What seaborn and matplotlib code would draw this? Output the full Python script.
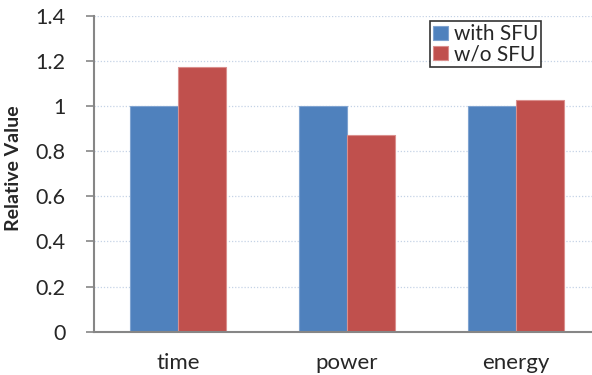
import matplotlib
matplotlib.use("Agg")
import matplotlib.pyplot as plt
import seaborn as sns
import pandas as pd

categories = ["time", "power", "energy"]
series_names = ["with SFU", "w/o SFU"]
with_sfu = [1.0, 1.0, 1.0]
without_sfu = [1.174, 0.873, 1.027]
y_ticks = [0, 0.2, 0.4, 0.6, 0.8, 1.0, 1.2, 1.4]
y_tick_labels = ["0", "0.2", "0.4", "0.6", "0.8", "1", "1.2", "1.4"]

df = pd.DataFrame({
    "metric": categories * 2,
    "series": [series_names[0]] * 3 + [series_names[1]] * 3,
    "value": with_sfu + without_sfu,
})

sns.set_theme(style="white")
plt.rcParams["font.family"] = ["Lato", "DejaVu Sans"]

fig = plt.figure(figsize=(5.92, 3.75), dpi=100)
ax = fig.add_axes([93.5 / 592, 1 - 331.7 / 375, (600.5 - 93.5) / 592, (331.7 - 15.7) / 375])

palette = {"with SFU": "#4F81BD", "w/o SFU": "#C0504D"}
sns.barplot(data=df, x="metric", y="value", hue="series", palette=palette,
            width=0.57, saturation=1, ax=ax, zorder=2)

edge_colors = {"#4F81BD": "#7FA3D0", "#C0504D": "#DA8F8D"}
for patch in ax.patches:
    fc = matplotlib.colors.to_hex(patch.get_facecolor()).upper()
    if fc in edge_colors:
        patch.set_edgecolor(edge_colors[fc])
        patch.set_linewidth(0.8)

ax.set_ylim(0, 1.4)
ax.set_xlim(-0.5, 2.5)
ax.set_yticks(y_ticks)
ax.set_yticklabels(y_tick_labels, fontsize=15.5)
ax.set_xticks([0, 1, 2])
ax.set_xticklabels(categories, fontsize=16)
ax.set_xlabel("")
ax.set_ylabel("Relative Value", fontsize=14, fontweight="bold")
ax.yaxis.set_label_coords((22 - 93.5) / 507, (331.7 - 168) / 316)

ax.yaxis.grid(True, linestyle=(0, (1, 1.5)), color="#C5D3E6", linewidth=0.9, zorder=0)
ax.set_axisbelow(True)

for side in ["top", "right"]:
    ax.spines[side].set_visible(False)
for side in ["left", "bottom"]:
    ax.spines[side].set_color("#868686")
    ax.spines[side].set_linewidth(1.5)

# category boundary ticks on the x axis
ax.set_xticks([-0.5, 0.5, 1.5], minor=True)
ax.tick_params(axis="x", which="major", length=0, pad=15)
ax.tick_params(axis="x", which="minor", length=6, width=1.2, color="#868686", direction="out")
ax.tick_params(axis="y", length=6, width=1.2, color="#868686", direction="out", pad=14, left=True)

leg = ax.legend(loc="upper left", bbox_to_anchor=((430 - 93.5) / 507, 1 - (21 - 15.7) / 316),
                frameon=True, fancybox=False, fontsize=15, handlelength=0.7,
                handleheight=0.7, handletextpad=0.3, borderpad=0.15, labelspacing=0.0,
                borderaxespad=0)
leg.get_frame().set_edgecolor("black")
leg.get_frame().set_linewidth(1.2)

fig.savefig("out.png", dpi=100)
